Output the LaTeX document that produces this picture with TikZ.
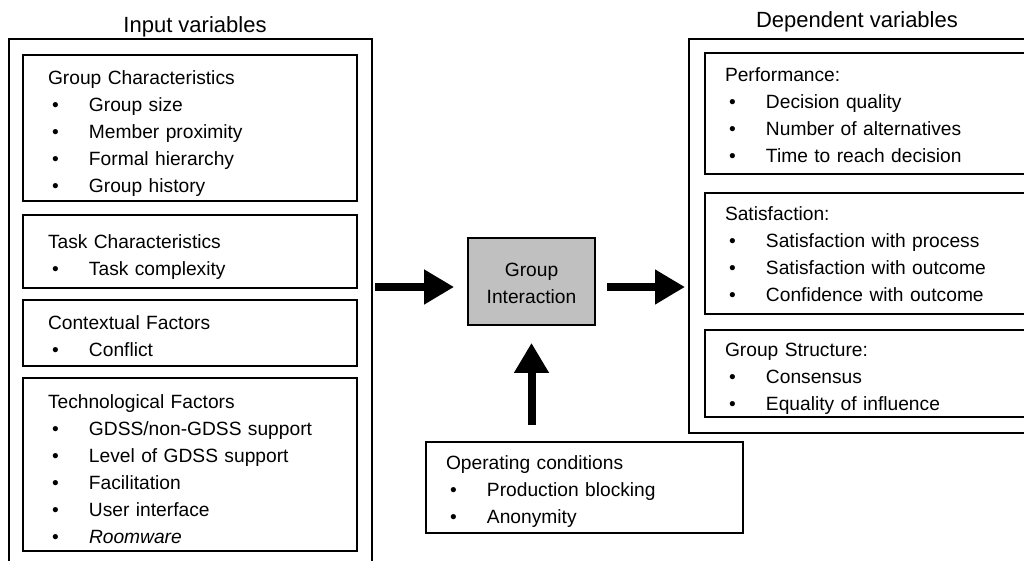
\documentclass[tikz,border=0pt]{standalone}
\usepackage{fontspec}
\setmainfont{Liberation Sans}
\usetikzlibrary{arrows.meta}

\newcommand{\itm}[1]{\hspace*{2pt}\makebox[18.5pt][l]{\textbullet}#1}
\newcommand{\boxdrop}[1]{\rule{0pt}{\dimexpr7pt+#1\relax}}

\tikzset{
  varbox/.style={draw, line width=0.9pt, align=left, inner ysep=0pt,
    font=\fontsize{9.6}{13.5}\selectfont},
  leftbox/.style={varbox, minimum width=167pt, inner xsep=12.5pt, text width=142pt},
  rightbox/.style={varbox, minimum width=167.5pt, inner xsep=10pt, text width=147.5pt},
  outerline/.style={line width=0.6pt},
  bigarrow/.style={line width=4pt, -{Triangle[length=15pt,width=16.5pt]}}
}

\begin{document}
\begin{tikzpicture}[x=0.5pt, y=-0.5pt]
    \useasboundingbox (0,0) rectangle (1024,561);
    % titles
    \node (inputtitle) at (195,27) {\fontsize{11}{13}\selectfont Input variables};
    \node (deptitle) at (857,22) {\fontsize{11}{13}\selectfont Dependent variables};
    % outer frames, cut by the page
    \draw[outerline] (9,600) -- (9,39) -- (372,39) -- (372,600);
    \draw[outerline] (1060,433) -- (689,433) -- (689,39) -- (1060,39);
    \coordinate (inR) at (372,287);
    \coordinate (depL) at (689,287);
    % input variables
    \node[leftbox, minimum height=73pt] (gc) at (190,128) {\boxdrop{5pt}Group Characteristics\\
      \itm{Group size}\\ \itm{Member proximity}\\ \itm{Formal hierarchy}\\ \itm{Group history}};
    \node[leftbox, minimum height=36.5pt] (tc) at (190,251.5) {\boxdrop{5pt}Task Characteristics\\
      \itm{Task complexity}};
    \node[leftbox, minimum height=33pt] (cf) at (190,333) {\boxdrop{3pt}Contextual Factors\\
      \itm{Conflict}};
    \node[leftbox, minimum height=86.5pt] (tf) at (190,464.5) {\boxdrop{5pt}Technological Factors\\
      \itm{GDSS/non-GDSS support}\\ \itm{Level of GDSS support}\\ \itm{Facilitation}\\
      \itm{User interface}\\ \itm{\textit{Roomware}}};
    % dependent variables
    \node[rightbox, minimum height=60.5pt] (perf) at (872.5,113.5) {\boxdrop{2pt}Performance:\\
      \itm{Decision quality}\\ \itm{Number of alternatives}\\ \itm{Time to reach decision}};
    \node[rightbox, minimum height=60.5pt] (sat) at (872.5,253.5) {\boxdrop{1pt}Satisfaction:\\
      \itm{Satisfaction with process}\\ \itm{Satisfaction with outcome}\\ \itm{Confidence with outcome}};
    \node[rightbox, minimum height=43.5pt] (gs) at (872.5,373.5) {\boxdrop{5pt}Group Structure:\\
      \itm{Consensus}\\ \itm{Equality of influence}};
    % middle
    \node[varbox, align=center, fill={rgb,255:red,192;green,192;blue,192},
      minimum width=63.5pt, minimum height=43.5pt] (gi) at (531.5,281.5) {\boxdrop{2pt}Group\\Interaction};
    \node[varbox, minimum width=158.5pt, minimum height=45.5pt, inner xsep=10pt,
      text width=138.5pt] (oc) at (584.5,487.5) {\boxdrop{4pt}Operating conditions\\
      \itm{Production blocking}\\ \itm{Anonymity}};
    % arrows
    \draw[bigarrow, shorten <=1.5pt, shorten >=6.5pt] (inR) -- (inR -| gi.west);
    \draw[bigarrow, shorten <=5.5pt, shorten >=2pt] (gi.east |- depL) -- (depL);
    \draw[bigarrow, shorten <=8pt, shorten >=8.5pt] (gi.south |- oc.north) -- (gi.south);
\end{tikzpicture}
\end{document}
